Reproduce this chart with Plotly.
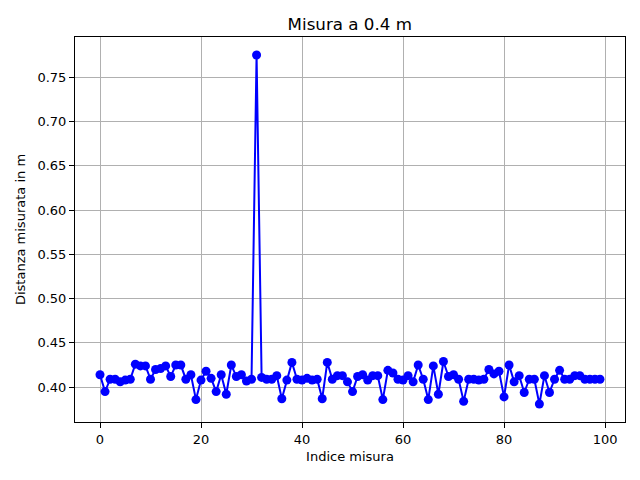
import plotly.graph_objects as go

# distanze misurate (m), una per indice
distanze = [
    0.414, 0.395, 0.409, 0.409, 0.406, 0.408, 0.409, 0.426, 0.424, 0.424,
    0.409, 0.420, 0.421, 0.424, 0.412, 0.425, 0.425, 0.409, 0.414, 0.386,
    0.408, 0.418, 0.410, 0.395, 0.414, 0.392, 0.425, 0.412, 0.414, 0.407,
    0.409, 0.775, 0.411, 0.409, 0.409, 0.413, 0.387, 0.408, 0.428, 0.409,
    0.408, 0.410, 0.408, 0.409, 0.387, 0.428, 0.409, 0.413, 0.413, 0.406,
    0.395, 0.412, 0.414, 0.408, 0.413, 0.413, 0.386, 0.419, 0.416, 0.409,
    0.408, 0.413, 0.406, 0.425, 0.409, 0.386, 0.424, 0.392, 0.429, 0.412,
    0.414, 0.409, 0.384, 0.409, 0.409, 0.408, 0.409, 0.420, 0.415, 0.418,
    0.389, 0.425, 0.406, 0.413, 0.394, 0.409, 0.409, 0.381, 0.413, 0.394,
    0.409, 0.419, 0.409, 0.409, 0.413, 0.413, 0.409, 0.409, 0.409, 0.409,
]
indici = list(range(len(distanze)))

fig = go.Figure(go.Scatter(
    x=indici, y=distanze, mode="lines+markers",
    line=dict(color="blue", width=2),
    marker=dict(color="blue", size=9),
))

font = "DejaVu Sans"
asse = dict(
    showline=True, linecolor="black", linewidth=1, mirror=True,
    ticks="outside", ticklen=5, tickcolor="black",
    showgrid=True, gridcolor="#b0b0b0", gridwidth=1, zeroline=False,
    tickfont=dict(family=font, size=13, color="black"),
)

# la pagina ha un margine di 8 px: area del grafico spostata di conseguenza
fig.update_layout(
    width=640, height=480,
    margin=dict(l=67, r=23, t=29, b=66),
    plot_bgcolor="white", paper_bgcolor="white",
    showlegend=False,
    title=dict(text="Misura a 0.4 m", x=0.534, xanchor="center", y=0.967, yanchor="middle",
               font=dict(family=font, size=16.7, color="black")),
    xaxis=dict(asse, range=[-4.95, 103.95], tickvals=[0, 20, 40, 60, 80, 100],
               title=dict(text="Indice misura", font=dict(family=font, size=13, color="black"), standoff=6)),
    yaxis=dict(asse, range=[0.3607, 0.7953], tickvals=[0.40, 0.45, 0.50, 0.55, 0.60, 0.65, 0.70, 0.75],
               tickformat=".2f",
               title=dict(text="Distanza misurata in m", font=dict(family=font, size=13, color="black"), standoff=8)),
)

fig.write_html("out.html")
